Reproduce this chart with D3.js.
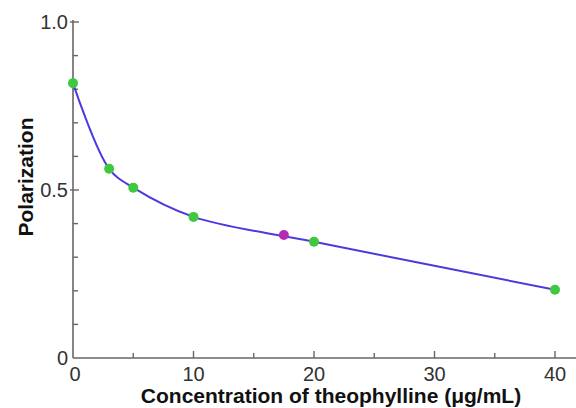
<!DOCTYPE html>
<html lang="en">
<head>
<meta charset="UTF-8">
<title>Polarization vs theophylline</title>
<script src="https://d3js.org/d3.v7.min.js"></script>
<style>
    body { margin: 0; background: #fff; font-family: Arial, "Liberation Sans", sans-serif; }
    .tick-label { font-size: 20px; fill: #333; }
    .axis-title { font-size: 21px; font-weight: bold; fill: #111; }
</style>
</head>
<body>
<div id="chart"></div>
<script>
// curve points (standards)
const conc = [0, 3, 5, 10, 20, 40];
const polar = [0.818, 0.563, 0.507, 0.42, 0.346, 0.203];
// unknown sample
const sampleConc = [17.5];
const samplePolar = [0.366];

const xTicks = [0, 10, 20, 30, 40];
const xMinor = [5, 15, 25, 35];
const yTicks = [0, 0.5, 1.0];
const yMinor = [0.1, 0.2, 0.3, 0.4, 0.6, 0.7, 0.8, 0.9];

const width = 576, height = 408;
const svg = d3.select('#chart').append('svg')
    .attr('width', width)
    .attr('height', height);

const x = d3.scaleLinear().domain([0, 40]).range([73, 555]);
const y = d3.scaleLinear().domain([0, 1]).range([358, 22]);

const axisColor = '#666';

// axis lines
svg.append('line')
    .attr('x1', x(0)).attr('x2', 576)
    .attr('y1', y(0)).attr('y2', y(0))
    .attr('stroke', axisColor).attr('stroke-width', 1.6);
svg.append('line')
    .attr('x1', x(0)).attr('x2', x(0))
    .attr('y1', y(0)).attr('y2', y(1) - 2)
    .attr('stroke', axisColor).attr('stroke-width', 1.6);

// x ticks (inward)
svg.selectAll('line.xmaj').data(xTicks.slice(1)).enter().append('line')
    .attr('x1', d => x(d)).attr('x2', d => x(d))
    .attr('y1', y(0)).attr('y2', y(0) - 7)
    .attr('stroke', axisColor).attr('stroke-width', 1.4);
svg.selectAll('line.xmin').data(xMinor).enter().append('line')
    .attr('x1', d => x(d)).attr('x2', d => x(d))
    .attr('y1', y(0)).attr('y2', y(0) - 5)
    .attr('stroke', axisColor).attr('stroke-width', 1.4);

// y ticks (inward)
svg.selectAll('line.ymaj').data(yTicks.slice(1)).enter().append('line')
    .attr('x1', x(0) - 3).attr('x2', x(0) + 6)
    .attr('y1', d => y(d)).attr('y2', d => y(d))
    .attr('stroke', axisColor).attr('stroke-width', 1.4);
svg.selectAll('line.ymin').data(yMinor).enter().append('line')
    .attr('x1', x(0)).attr('x2', x(0) + 5)
    .attr('y1', d => y(d)).attr('y2', d => y(d))
    .attr('stroke', axisColor).attr('stroke-width', 1.4);

// tick labels
svg.selectAll('text.xl').data(xTicks).enter().append('text')
    .attr('class', 'tick-label')
    .attr('x', d => x(d) + (d === 0 ? 2 : 0))
    .attr('y', y(0) + 23)
    .attr('text-anchor', 'middle')
    .text(d => d);
svg.selectAll('text.yl').data(yTicks).enter().append('text')
    .attr('class', 'tick-label')
    .attr('x', x(0) - 5)
    .attr('y', d => y(d) + 7)
    .attr('text-anchor', 'end')
    .text(d => d === 0 ? '0' : d.toFixed(1));

// axis titles
svg.append('text')
    .attr('class', 'axis-title')
    .attr('x', 331).attr('y', 403)
    .attr('text-anchor', 'middle')
    .text('Concentration of theophylline (μg/mL)');
svg.append('text')
    .attr('class', 'axis-title')
    .attr('transform', 'translate(33,177) rotate(-90)')
    .attr('text-anchor', 'middle')
    .text('Polarization');

// fitted curve
const pts = conc.map((c, i) => [c, polar[i]]);
const line = d3.line()
    .x(d => x(d[0]))
    .y(d => y(d[1]))
    .curve(d3.curveCatmullRom.alpha(0.5));
svg.append('path')
    .attr('d', line(pts))
    .attr('fill', 'none')
    .attr('stroke', '#4b3ae0')
    .attr('stroke-width', 2);

// standard points
svg.selectAll('circle.std').data(pts).enter().append('circle')
    .attr('cx', d => x(d[0]))
    .attr('cy', d => y(d[1]))
    .attr('r', 5)
    .attr('fill', '#3ec93e');

// sample point
svg.selectAll('circle.smp').data(sampleConc).enter().append('circle')
    .attr('cx', d => x(d))
    .attr('cy', (d, i) => y(samplePolar[i]))
    .attr('r', 5)
    .attr('fill', '#b52bb5');
</script>
</body>
</html>
